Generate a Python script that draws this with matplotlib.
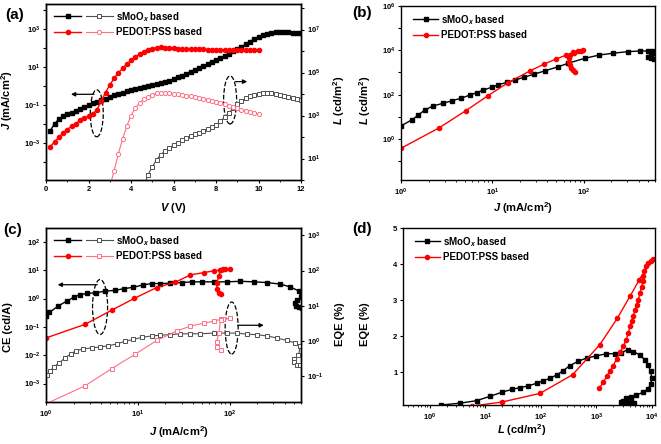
import numpy as np
import matplotlib
matplotlib.use("Agg")
import matplotlib.pyplot as plt
from matplotlib.ticker import LogLocator, FuncFormatter, NullLocator, MultipleLocator
from matplotlib.patches import Ellipse
from matplotlib.legend_handler import HandlerTuple

plt.rcParams["font.family"] = "Liberation Sans"
plt.rcParams["font.weight"] = "bold"
plt.rcParams["axes.labelweight"] = "bold"
plt.rcParams["mathtext.fontset"] = "custom"
plt.rcParams["mathtext.rm"] = "Liberation Sans:bold"
plt.rcParams["mathtext.it"] = "Liberation Sans:italic:bold"
plt.rcParams["mathtext.bf"] = "Liberation Sans:bold"
plt.rcParams["axes.linewidth"] = 1.0
plt.rcParams["xtick.direction"] = "out"
plt.rcParams["ytick.direction"] = "out"
plt.rcParams["xtick.labelsize"] = 5.5
plt.rcParams["ytick.labelsize"] = 5.5
plt.rcParams["xtick.major.size"] = 2.5
plt.rcParams["ytick.major.size"] = 2.5
plt.rcParams["xtick.minor.size"] = 1.5
plt.rcParams["ytick.minor.size"] = 1.5
plt.rcParams["xtick.major.pad"] = 2
plt.rcParams["ytick.major.pad"] = 1.5

BLACK = "black"
GRAY = "#505050"
RED = "#ff0000"
PINK = "#ff6f86"

labels = ["sMoO$_x$ based", "PEDOT:PSS based"]

# ---- (a) J-V-L, voltage steps of 0.2 V ----
volt = [0.2, 0.4, 0.6, 0.8, 1.0, 1.2, 1.4, 1.6, 1.8, 2.0, 2.2, 2.4, 2.6, 2.8, 3.0,
        3.2, 3.4, 3.6, 3.8, 4.0, 4.2, 4.4, 4.6, 4.8, 5.0, 5.2, 5.4, 5.6, 5.8, 6.0,
        6.2, 6.4, 6.6, 6.8, 7.0, 7.2, 7.4, 7.6, 7.8, 8.0, 8.2, 8.4, 8.6, 8.8, 9.0,
        9.2, 9.4, 9.6, 9.8, 10.0, 10.2, 10.4, 10.6, 10.8, 11.0, 11.2, 11.4, 11.6, 11.8, 12.0]
# log10 of current density (mA/cm2)
logj_smoox = [-2.35, -2.0, -1.75, -1.6, -1.5, -1.4, -1.3, -1.2, -1.1, -1.0,
              -0.92, -0.84, -0.75, -0.67, -0.58, -0.5, -0.42, -0.35, -0.28, -0.21,
              -0.15, -0.1, -0.05, 0.0, 0.06, 0.11, 0.16, 0.21, 0.28, 0.36,
              0.45, 0.55, 0.65, 0.75, 0.85, 0.95, 1.05, 1.15, 1.26, 1.37,
              1.48, 1.6, 1.71, 1.82, 1.94, 2.07, 2.2, 2.34, 2.48, 2.6,
              2.69, 2.75, 2.79, 2.83, 2.84, 2.84, 2.83, 2.8, 2.78, 2.77]
logj_pedot = [-3.2, -2.95, -2.7, -2.48, -2.3, -2.12, -1.98, -1.82, -1.7, -1.6,
              -1.48, -1.25, -0.8, -0.35, 0.05, 0.4, 0.68, 0.93, 1.15, 1.35,
              1.52, 1.68, 1.8, 1.9, 1.97, 2.02, 2.03, 2.02, 2.0, 1.98,
              1.97, 1.96, 1.95, 1.94, 1.94, 1.93, 1.93, 1.92, 1.92, 1.91,
              1.91, 1.91, 1.91, 1.91, 1.91, 1.91, 1.91, 1.91, 1.91, 1.91]
# log10 of luminance (cd/m2); sMoOx from 4.6 V, PEDOT from 3.0 V
logl_smoox = [-0.3, 0.25, 0.6, 0.95, 1.18, 1.35, 1.5, 1.62, 1.73, 1.85,
              1.95, 2.04, 2.12, 2.2, 2.28, 2.37, 2.46, 2.57, 2.73, 2.92,
              3.12, 3.33, 3.52, 3.68, 3.8, 3.89, 3.95, 4.0, 4.04, 4.06,
              4.05, 4.01, 3.96, 3.92, 3.87, 3.82, 3.77, 3.73]
logl_pedot = [-0.3, 0.4, 1.2, 1.9, 2.5, 3.0, 3.35, 3.58, 3.76, 3.88,
              3.97, 4.04, 4.07, 4.07, 4.05, 4.02, 3.99, 3.96, 3.93, 3.9,
              3.87, 3.83, 3.79, 3.74, 3.69, 3.64, 3.58, 3.52, 3.46, 3.4,
              3.34, 3.28, 3.23, 3.18, 3.13, 3.08]

# ---- (b) L vs J (log10 values) ----
b_logj_smoox = [0.0, 0.117, 0.19, 0.26, 0.35, 0.46, 0.56, 0.66, 0.75, 0.83, 0.9, 0.99, 1.06,
                1.16, 1.25, 1.34, 1.46, 1.57, 1.72, 1.83, 2.01, 2.17, 2.32, 2.48, 2.61, 2.7,
                2.75, 2.77, 2.73, 2.7, 2.73, 2.77]
b_logl_smoox = [0.59, 0.86, 1.08, 1.31, 1.49, 1.61, 1.73, 1.84, 1.98, 2.09, 2.21, 2.33, 2.44,
                2.56, 2.66, 2.78, 2.93, 3.07, 3.26, 3.42, 3.64, 3.79, 3.87, 3.94, 3.97, 3.97,
                3.95, 3.88, 3.8, 3.72, 3.65, 3.62]
b_logj_pedot = [0.0, 0.42, 0.71, 0.95, 1.17, 1.41, 1.56, 1.69, 1.81, 1.89, 1.97, 1.99,
                1.94, 1.88, 1.85, 1.84, 1.84, 1.85, 1.86, 1.88, 1.9]
b_logl_pedot = [-0.42, 0.51, 1.28, 1.95, 2.54, 3.07, 3.37, 3.6, 3.79, 3.87, 3.98, 4.02,
                3.99, 3.94, 3.8, 3.65, 3.49, 3.33, 3.19, 3.1, 3.04]

# ---- (c) CE and EQE vs J (log10 values) ----
c_logj_ce_smoox = [0.0, 0.036, 0.135, 0.225, 0.305, 0.371, 0.451, 0.545, 0.644, 0.753, 0.851,
                   0.953, 1.055, 1.153, 1.244, 1.353, 1.48, 1.589, 1.698, 1.825, 1.971, 2.116,
                   2.262, 2.407, 2.553, 2.662, 2.753, 2.78, 2.74, 2.71, 2.72, 2.76, 2.79]
c_logce_smoox = [-0.62, -0.49, -0.26, -0.09, 0.05, 0.14, 0.18, 0.21, 0.26, 0.29, 0.35,
                 0.4, 0.48, 0.53, 0.53, 0.54, 0.565, 0.59, 0.59, 0.59, 0.59, 0.61,
                 0.59, 0.565, 0.51, 0.41, 0.27, 0.05, -0.05, -0.15, -0.25, -0.31, -0.33]
c_logj_ce_pedot = [0.0, 0.425, 0.716, 0.964, 1.207, 1.41, 1.574, 1.719, 1.829, 1.902, 1.953, 2.0,
                   1.93, 1.898, 1.883, 1.858, 1.865, 1.88, 1.902]
c_logce_pedot = [-1.39, -0.91, -0.41, 0.01, 0.39, 0.58, 0.835, 0.916, 0.98, 1.01, 1.03, 1.06,
                 1.03, 1.0, 0.78, 0.54, 0.33, 0.21, 0.16]
c_logj_eqe_smoox = [0.007, 0.044, 0.087, 0.145, 0.207, 0.269, 0.327, 0.407, 0.498, 0.589, 0.68,
                    0.771, 0.862, 0.953, 1.044, 1.153, 1.244, 1.353, 1.462, 1.571, 1.68, 1.825,
                    1.971, 2.08, 2.189, 2.298, 2.407, 2.516, 2.625, 2.716, 2.771,
                    2.75, 2.705, 2.698, 2.735, 2.771]
c_logeqe_smoox = [-0.98, -0.86, -0.74, -0.62, -0.49, -0.37, -0.28, -0.23, -0.2, -0.175, -0.14,
                  -0.09, -0.01, 0.04, 0.1, 0.14, 0.16, 0.175, 0.2, 0.2, 0.2, 0.22,
                  0.22, 0.22, 0.19, 0.175, 0.14, 0.08, 0.01, -0.06, -0.15,
                  -0.41, -0.51, -0.6, -0.68, -0.7]
c_logj_eqe_pedot = [0.0, 0.425, 0.716, 0.971, 1.207, 1.425, 1.574, 1.719, 1.829, 1.902, 2.003,
                    1.93, 1.902, 1.883, 1.858, 1.865, 1.902]
c_logeqe_pedot = [-1.79, -1.28, -0.79, -0.38, 0.01, 0.28, 0.42, 0.5, 0.56, 0.61, 0.64,
                  0.62, 0.59, 0.21, -0.03, -0.17, -0.26]

# ---- (d) EQE (%) vs L (log10 of L) ----
d_logl_smoox = [0.2, 0.54, 0.84, 1.08, 1.29, 1.47, 1.62, 1.77, 1.92, 2.04, 2.16, 2.28, 2.4,
                2.52, 2.67, 2.82, 3.0, 3.18, 3.33, 3.45, 3.56, 3.66, 3.78, 3.87, 3.93, 3.975,
                3.995, 3.98, 3.93, 3.84, 3.72, 3.62, 3.53, 3.47, 3.45, 3.55, 3.65, 3.58,
                3.48, 3.52, 3.62, 3.68]
d_eqe_smoox = [0.1, 0.15, 0.22, 0.34, 0.45, 0.53, 0.58, 0.63, 0.7, 0.77, 0.84, 0.93, 1.05,
               1.19, 1.31, 1.4, 1.46, 1.52, 1.52, 1.55, 1.63, 1.58, 1.49, 1.35, 1.21, 1.03,
               0.86, 0.68, 0.55, 0.45, 0.38, 0.33, 0.28, 0.22, 0.17, 0.15, 0.14, 0.12,
               0.13, 0.18, 0.2, 0.16]
d_logl_pedot = [0.75, 1.29, 1.98, 2.57, 3.06, 3.375, 3.604, 3.772,
                4.01, 3.976, 3.934, 3.892, 3.856, 3.844, 3.832, 3.814, 3.784, 3.754, 3.724,
                3.694, 3.664, 3.634, 3.604, 3.573, 3.532, 3.483, 3.423, 3.363, 3.303, 3.243,
                3.183, 3.123, 3.051]
d_eqe_pedot = [0.07, 0.18, 0.42, 0.94, 1.77, 2.5, 3.11, 3.57,
               4.14, 4.1, 4.03, 3.94, 3.8, 3.66, 3.52, 3.38, 3.2, 3.02, 2.88,
               2.74, 2.57, 2.43, 2.28, 2.09, 1.9, 1.72, 1.56, 1.38, 1.19, 1.03,
               0.89, 0.73, 0.565]


def p10(vals):
    return np.power(10.0, vals)


def decade_formatter(keep):
    def fmt(v, pos):
        e = int(round(np.log10(v)))
        return r"$10^{%d}$" % e if e in keep else ""
    return FuncFormatter(fmt)


def log_yaxis(ax, lo, hi, keep):
    ax.set_yscale("log")
    ax.set_ylim(lo, hi)
    ax.yaxis.set_major_locator(LogLocator(base=10, numticks=30))
    ax.yaxis.set_major_formatter(decade_formatter(keep))
    ax.yaxis.set_minor_locator(NullLocator())


def log_xaxis(ax, lo, hi, keep):
    ax.set_xscale("log")
    ax.set_xlim(lo, hi)
    ax.xaxis.set_major_locator(LogLocator(base=10, numticks=30))
    ax.xaxis.set_minor_locator(LogLocator(base=10, subs=np.arange(2, 10), numticks=30))
    ax.xaxis.set_major_formatter(decade_formatter(keep))


fig = plt.figure(figsize=(6.61, 4.44), dpi=100)


def px_axes(l, t, r, b):
    return fig.add_axes([l / 661, 1 - b / 444, (r - l) / 661, (b - t) / 444])


ax_a = px_axes(46, 4, 301, 180)
ax_b = px_axes(401, 6, 655, 180)
ax_c = px_axes(46, 228, 301, 402)
ax_d = px_axes(403, 228, 655, 405)

mk = dict(ms=3, lw=1.0)
op = dict(ms=3, lw=0.8, mfc="white", mew=0.7)
tup = {tuple: HandlerTuple(ndivide=None, pad=0.5)}

# (a)
la1, = ax_a.plot(volt, p10(logj_smoox), "-s", color=BLACK, **mk)
la2, = ax_a.plot(volt[:50], p10(logj_pedot), "-o", color=RED, **mk)
log_yaxis(ax_a, 1.1e-5, 2.1e4, [-5, -3, -1, 1, 3])
ax_a.set_xlim(0, 12)
ax_a.xaxis.set_major_locator(MultipleLocator(2))
ax_a.xaxis.set_minor_locator(MultipleLocator(1))
ax_a2 = ax_a.twinx()
la3, = ax_a2.plot(volt[22:], p10(logl_smoox), "-s", color=GRAY, **op)
la4, = ax_a2.plot(volt[14:50], p10(logl_pedot), "-o", color=PINK, **op)
log_yaxis(ax_a2, 1, 1.55e8, [1, 3, 5, 7])
ax_a.set_xlabel("$V$ (V)", fontsize=8)
ax_a.xaxis.set_label_coords(0.5, -0.12)
ax_a.set_ylabel("$J$ (mA/cm$^2$)", fontsize=8)
ax_a.yaxis.set_label_coords(-0.12, 0.455)
ax_a2.set_ylabel("$L$ (cd/m$^2$)", fontsize=8)
ax_a2.yaxis.set_label_coords(1.118, 0.455)
ax_a2.legend([(la1, la3), (la2, la4)], labels, handler_map=tup, handlelength=6,
             loc="upper left", bbox_to_anchor=(0.01, 1.0), frameon=False, fontsize=7,
             borderaxespad=0.2, handletextpad=0.3, labelspacing=0.35)
ax_a.add_patch(Ellipse((0.199, 0.379), 0.051, 0.267, transform=ax_a.transAxes,
                       fill=False, ls="--", lw=0.9, ec=BLACK))
ax_a.add_patch(Ellipse((0.722, 0.455), 0.051, 0.273, transform=ax_a.transAxes,
                       fill=False, ls="--", lw=0.9, ec=BLACK))
arw = dict(arrowstyle="-|>", color=BLACK, lw=0.9, mutation_scale=6)
ax_a.annotate("", xy=(0.087, 0.487), xytext=(0.199, 0.487), xycoords="axes fraction",
              arrowprops=arw)
ax_a.annotate("", xy=(0.8, 0.559), xytext=(0.732, 0.559), xycoords="axes fraction",
              arrowprops=arw)

# (b)
ax_b.plot(p10(b_logj_smoox), p10(b_logl_smoox), "-s", color=BLACK, label=labels[0], **mk)
ax_b.plot(p10(b_logj_pedot), p10(b_logl_pedot), "-o", color=RED, label=labels[1], **mk)
log_xaxis(ax_b, 1, 600, [0, 1, 2])
log_yaxis(ax_b, 10 ** -1.85, 1e6, [0, 2, 4, 6])
ax_b.set_xlabel("$J$ (mA/cm$^2$)", fontsize=8)
ax_b.xaxis.set_label_coords(0.48, -0.115)
ax_b.set_ylabel("$L$ (cd/m$^2$)", fontsize=8)
ax_b.yaxis.set_label_coords(-0.11, 0.46)
ax_b.legend(loc="upper left", bbox_to_anchor=(0.02, 1.0), frameon=False, fontsize=7,
            borderaxespad=0.3, handlelength=2.6, handletextpad=0.3, labelspacing=0.35)

# (c)
lc1, = ax_c.plot(p10(c_logj_ce_smoox), p10(c_logce_smoox), "-s", color=BLACK, **mk)
lc2, = ax_c.plot(p10(c_logj_ce_pedot), p10(c_logce_pedot), "-o", color=RED, **mk)
log_xaxis(ax_c, 1, 600, [0, 1, 2])
log_yaxis(ax_c, 10 ** -3.65, 10 ** 2.49, [-3, -2, -1, 0, 1, 2])
ax_c2 = ax_c.twinx()
lc3, = ax_c2.plot(p10(c_logj_eqe_smoox), p10(c_logeqe_smoox), "-s", color=GRAY, **op)
lc4, = ax_c2.plot(p10(c_logj_eqe_pedot), p10(c_logeqe_pedot), "-s", color=PINK, **op)
log_yaxis(ax_c2, 10 ** -1.74, 10 ** 3.21, [-1, 0, 1, 2, 3])
ax_c.set_xlabel("$J$ (mA/cm$^2$)", fontsize=8)
ax_c.xaxis.set_label_coords(0.52, -0.126)
ax_c.set_ylabel("CE (cd/A)", fontsize=8)
ax_c.yaxis.set_label_coords(-0.13, 0.43)
ax_c2.set_ylabel("EQE (%)", fontsize=8)
ax_c2.yaxis.set_label_coords(1.133, 0.448)
ax_c2.legend([(lc1, lc3), (lc2, lc4)], labels, handler_map=tup, handlelength=6,
             loc="upper left", bbox_to_anchor=(0.01, 1.0), frameon=False, fontsize=7,
             borderaxespad=0.2, handletextpad=0.3, labelspacing=0.35)
ax_c.add_patch(Ellipse((0.212, 0.546), 0.059, 0.316, transform=ax_c.transAxes,
                       fill=False, ls="--", lw=0.9, ec=BLACK))
ax_c.add_patch(Ellipse((0.728, 0.425), 0.051, 0.299, transform=ax_c.transAxes,
                       fill=False, ls="--", lw=0.9, ec=BLACK))
ax_c.annotate("", xy=(0.035, 0.674), xytext=(0.212, 0.674), xycoords="axes fraction",
              arrowprops=arw)
ax_c.annotate("", xy=(0.865, 0.441), xytext=(0.741, 0.441), xycoords="axes fraction",
              arrowprops=arw)

# (d)
ax_d.plot(p10(d_logl_smoox), d_eqe_smoox, "-s", color=BLACK, label=labels[0], **mk)
ax_d.plot(p10(d_logl_pedot), d_eqe_pedot, "-o", color=RED, label=labels[1], **mk)
log_xaxis(ax_d, 10 ** -0.486, 10 ** 4.054, [0, 1, 2, 3, 4])
ax_d.set_ylim(0.1, 5)
ax_d.set_yticks([1, 2, 3, 4, 5])
ax_d.set_xlabel("$L$ (cd/m$^2$)", fontsize=8)
ax_d.xaxis.set_label_coords(0.47, -0.096)
ax_d.set_ylabel("EQE (%)", fontsize=8)
ax_d.yaxis.set_label_coords(-0.131, 0.458)
ax_d.legend(loc="upper left", bbox_to_anchor=(0.02, 1.0), frameon=False, fontsize=7,
            borderaxespad=0.3, handlelength=2.6, handletextpad=0.3, labelspacing=0.35)

for txt, x, y in [("(a)", 5, 15), ("(b)", 352, 13), ("(c)", 3, 230), ("(d)", 352, 229)]:
    fig.text(x / 661, 1 - y / 444, txt, fontsize=11, weight="bold", va="center")

fig.savefig("out.png", dpi=100)
